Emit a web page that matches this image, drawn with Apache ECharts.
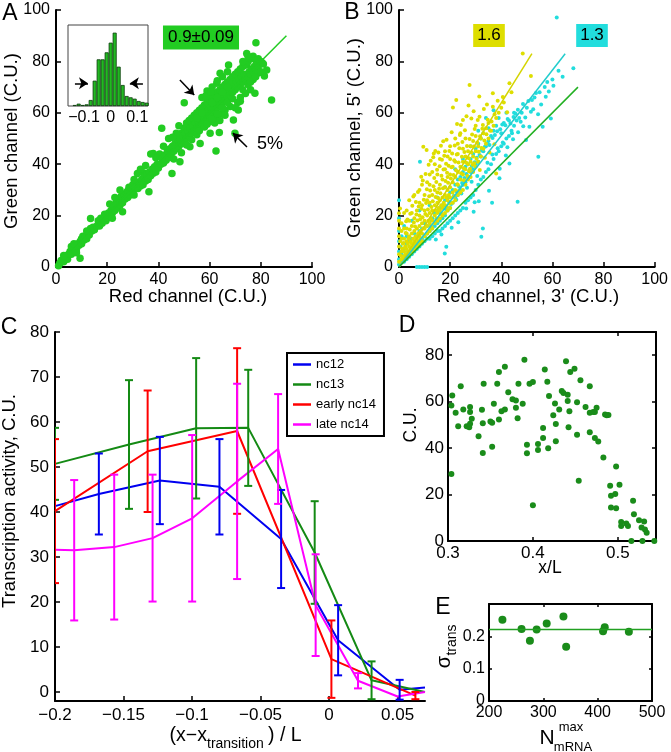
<!DOCTYPE html>
<html><head><meta charset="utf-8">
<script src="https://cdn.jsdelivr.net/npm/echarts@6/dist/echarts.min.js"></script>
<style>html,body{margin:0;padding:0;background:#fff}#c{width:671px;height:752px}</style>
</head><body><div id="c"></div>
<script>
const FONT = '"Liberation Sans", Arial, sans-serif';

// ---------- Panel A ----------
const A_ticks = [0, 20, 40, 60, 80, 100];
const A_points = [
[1,0.5],[1.5,1.5],[2,2.5],[3,2],[3.5,3.5],[4,4.5],[4.5,3],[5,5],[5.5,6],[6,5],[6.5,7],[7,6.5],[7.5,8],[8,7],[8.5,9],[9,8.5],[9.5,10],[10,9],[10,11],[10.5,12],[11,10.5],[11.5,12],[12,11],[12.5,13.5],[13,12.5],[13.5,15],[14,14],[14.5,15.5],[15,14.5],[16,16],[16.5,18],[17,16],[17.5,19],[18,17],[18.5,18.5],[19,20.5],[19.5,18],[20,19],[20.5,21],[9.4,3.4],[13.5,18.9],[6,8],[8,5.5],[12,14],[3,4.5],[7,9],
[21,24.5],[21,20],[21.5,22],[22,21],[22.5,23.5],[23,22],[23.5,25],[24,23],[24.5,26],[25,24],[25.5,27.5],[26,25],[26.5,28],[27,26.5],[27.5,29],[28,29.6],[28,27],[28.5,31],[29,28],[29.5,30.5],[30,29],[30.5,28],[30,32],[31,31],[31.8,36.4],[32,30.5],[32.5,33],[33,31.5],[33.5,34],[34,32],[34.1,36.7],[34.5,35],[35,33.5],[35.5,36],[36,34],[36.3,29.3],[36.5,37],[37,35.5],[37.5,38],[38,44.2],[38,36.5],[38.5,39],[39,37],[39.5,40],[40,38.5],[40.5,44],[23,27],[25,30],[26,21.5],[30.5,34],[33,38],[35,39.5],[39,42.5],[37,44],[22,19],
[41,40],[41.3,54],[41.5,42],[42,40.5],[42.5,43.5],[43,41.5],[43.5,45],[44,42.5],[44.5,46],[45,44],[45.3,36.4],[45.5,47],[46,45],[46.5,48],[47,46],[47.5,49.5],[48,47],[48.4,41],[48.5,50],[49,48],[49,52],[49.5,51],[50,49],[50,54],[50.1,63.9],[50.5,52],[51,50],[51,56],[51.5,53],[52,51],[52,57],[52.3,46.8],[52.5,54],[53,52],[53,58],[53.5,55],[54,53],[54,59],[54.5,56],[55,54],[55,60],[42,47],[44,50],[46,42],[47,52],[49,44.5],[51,47.5],[53,49.5],[55,51.5],[45.5,50.5],[48,55],
[55.5,57],[56,55],[56,61],[56.3,48.1],[56.5,58],[57,56],[57,62],[57.5,59],[58,57],[58,63],[58.5,60],[59,58],[59,64],[59.5,61],[60,59],[60,65],[60.2,52],[60.5,62],[61,60],[61,66],[61.5,63],[62,61],[62,67],[62.5,45.1],[62.5,64],[62.8,71.5],[63,62],[63,68],[63.5,65],[63.8,52.3],[64,63],[64,69],[64.1,75.4],[64.5,66],[65,64],[65,70],[65.5,67],[66,65],[66,71],[66.5,68],[67,66],[67.4,78.6],[67,72],[67.5,69],[68,67],[68,73],[68.5,70],[69,68],[69.3,57.2],[69,74],[69.5,71],[69.9,52],[70,69],[70,75],[56,53],[58,54.5],[60,56.5],[62,58],[64,59.5],[66,61],[68,62.5],[57,66],[59,68.5],[61,70],[63,72.5],[65,74],[67,76],[62,56],[64,57],[66,59],[58.5,66.5],[60.5,68],[55,58],[57,60],[61,64],[63,66],[65,68],[67,70],[69,72],[59,55.5],[61,57.5],[63,59.5],[65,62],[67,64],[69,65.5],
[70.5,72],[71,70],[71,76],[71.2,61.1],[71.5,73],[72,71],[72,77],[72.5,74],[73,72],[73,78],[73.5,75],[74,73],[74.5,83.1],[74.5,78.6],[74,79],[75,74],[75,80],[75.5,76],[76,75],[76,81],[76.5,77],[77,76],[77.7,67.6],[77,82],[77.5,78],[78,77],[78.1,87.3],[78,80.5],[78.5,79],[79,78],[79,81],[80,80],[80.5,79.5],[81.4,74.3],[82.3,76.7],[84.2,65],[72,66],[74,67.5],[76,69],[71,64],[73,69],[75,71],[77,73],[79,75.5],[70,62],[72,64.5],[76,72],[78,74],[80,76],[81,79],[73,80],[75,82]
];
const A_fit = [[0, 0], [90, 90]];
const A_arrows = [[[48.4, 72.8], [54, 66.9]], [[74.6, 46.7], [69.1, 52.1]]];

// inset histogram
const INSET_ticks = [-0.1, 0, 0.1];
const hist_centers = [-0.135,-0.12,-0.105,-0.09,-0.075,-0.06,-0.045,-0.03,-0.015,0,0.015,0.03,0.045,0.06,0.075,0.09,0.105,0.12,0.135];
const hist_counts = [3,7,3,5,18,76,140,140,161,190,220,118,63,30,26,22,15,12,10];
const inset_arrows = [[[-0.134, 68], [-0.085, 68]], [[0.121, 68], [0.072, 68]]];

// ---------- Panel B ----------
const B_yellow = [
[0,2],[0,5],[0,8],[0,12],[0,15],[0,18],[0,20.9],[0.4,22.8],[0.5,10],[1,3],[1,6],[1,14],[1,17],[1.5,4],[1.5,9],[2,3],[2,6],[2,11],[2,21],[2.5,5],[2.5,8],[3,4],[3,7],[3,10],[3,15],[3,22],[3.5,6],[3.5,9],[4,5],[4,8],[4,12],[4,18],[4.5,7],[4.5,10],[5,6],[5,9],[5,13],[5,16],[5,21],[5.5,8],[5.5,11],[6,7],[6,10],[6,14],[6,19],[6.5,9],[6.5,12],[7,8],[7,11],[7,15],[7,22],[7.5,10],[7.5,13],[7.9,13.1],[8,9],[8,12],[8,16],[8,20],[8,25],[8.5,11],[8.5,14],[9,10],[9,13],[9,17],[9,24],[9.5,46.8],[9.5,15],[10,12],[10,15],[10,18],[10,22],[10,28],[10.8,45.5],[11,13],[11,16],[11,20],[11,26],[11.5,18],[12,14],[12,17],[12,21],[12,25],[12,32],[12.5,19],[13,15],[13,18],[13,22],[13,28],[13.6,44.2],[14,17],[14,20],[14,24],[14,30],[14.5,22],[15,18],[15,21],[15,25],[15,29],[15,36],[15.5,23],[16,19],[16,22],[16,26],[16,32],[16.5,24],[17,20],[17,23],[17,27],[17,34],[17.5,25],[18,21],[18,24],[18,28],[18,31],[18,38],[18.5,27],[19,22],[19,26],[19,30],[19,35],[19.5,28],[20,23],[20,27],[20,31],[20,36],[20,42],[21,25],[21,29],[21,33],[21.1,62.1],[21,39],[22,26],[22,30],[22,35],[22.4,65],[22,41],[23,28],[23,32],[23,37],[23,44],[24,29],[24,34],[24,39],[25,30],[25,36],[25,41],[25,57.2],[25,46],[26,32],[26,38],[26,43],[27,34],[27,40],[27,45],[27.6,70.8],[28,35],[28,41],[28,47],[28.3,57.8],[29,37],[29,43],[29,49],[30,39],[30,45],[30,51],[31,41],[31,47],[31.5,58.5],[32,43],[32,50],[32.8,55.3],[33,46],[33,52],[34,48],[34,54],[35,50],[35,56],[36,53],[36.7,62.4],[36.7,67.6],[37,55],[38,36.4],[38,58],[39,60],[40,62],[41,64],[43.2,71.5],[44,68],[48.4,83.1],[51.6,74.3],[6,28],[4,26],[9,32],[12,36],[14,40],[16,42],[18,45],[20,47],[22,50],[24,52],[11,33],[13,37],[8,30],[19,43],[23,48],[26,50],[30,55],[2,15],[1,11],[3,13],
[2.3,7.4],[3.7,11.2],[4.2,14.6],[5.8,17.3],[6.3,15.8],[6.8,20.4],[7.2,18.1],[7.7,23.5],[8.3,18.6],[8.8,22.7],[9.2,19.4],[9.7,26.2],[10.3,20.6],[10.6,24.9],[10.9,30.3],[11.3,22.4],[11.8,27.5],[12.2,29.8],[12.7,23.3],[13.2,25.6],[13.5,31.4],[13.8,34.6],[14.3,27.2],[14.6,33.1],[14.9,37.8],[15.3,26.8],[15.7,30.4],[15.9,39.2],[16.2,28.7],[16.6,35.5],[16.8,41.7],[17.2,30.6],[17.4,37.9],[17.7,43.3],[18.2,33.5],[18.4,40.2],[18.8,36.7],[19.2,32.8],[19.4,39.4],[19.7,45.1],[20.3,34.4],[20.5,38.8],[20.8,44.2],[21.3,35.8],[21.6,41.5],[21.8,47.3],[22.3,37.6],[22.6,43.8],[22.8,32.2],[23.3,40.7],[23.6,46.2],[23.8,51.4],[24.3,36.5],[24.6,42.9],[24.8,48.6],[25.3,38.4],[25.6,44.7],[25.8,53.2],[26.3,40.6],[26.6,47.1],[26.8,35.4],[27.3,42.3],[27.6,49.8],[27.8,38.2],[28.3,44.6],[28.6,51.6],[28.8,39.8],[29.3,46.9],[29.6,53.7],[30.3,42.1],[30.6,48.4],[31.2,44.8],[31.7,50.9],[32.3,46.3],[32.6,53.8],[33.4,49.2],[34.2,51.7],[34.7,57.3],[35.6,53.1],[36.2,56.6],[37.4,59.4],[33.2,61.5],[30.8,57.2],[29.2,60.6],[26.4,58.7],[24.2,55.3],[18.6,49.5],[16.4,47.2],[14.2,45.1],[12.4,41.3],[10.4,36.2],[9.3,33.7],[7.4,29.2],[6.6,25.3],[5.2,23.8],[4.4,20.7],[3.3,18.5],[2.6,13.2],[1.8,9.3],[1.2,7.2],[0.7,4.4],[2.8,17.8],[5.6,27.4],[8.7,35.1],[11.6,39.8],[13.4,42.7],[15.4,44.6],[17.3,48.9],[20.6,52.4],[22.7,55.6],[27.2,62.8],[31.4,66.3],[34.4,63.2],[38.6,64.7],[40.6,66.1],[42.3,60.2],[19.8,24.7],[21.4,27.3],[23.4,29.6],[25.4,33.8],[27.4,37.3],[29.4,40.4],[31.6,37.7],[33.6,42.5],[35.4,44.6],[37.3,47.8],[12.6,15.8],[14.7,18.9],[16.7,20.6],[18.7,23.4]
];
const B_cyan = [
[0,1],[0,3],[0,6],[0,10],[0,14],[0,19],[0,26],[0.5,8],[1,2],[1,5],[1,12],[1.5,3],[2,2],[2,4],[2,7],[2,16],[3,3],[3,5],[3,9],[4,4],[4,6],[4,10],[5,5],[5,7],[5,11],[6,6],[6,8],[6,13],[7,0],[7,7],[7,9],[7,12],[8,0],[8,8],[8,10],[8.2,41],[8,14],[9,0],[9,9],[9,11],[9,15],[10,0],[10,10],[10,12],[10,17],[11,0],[11,11],[11,13],[11,16],[12,11],[12,14],[12,18],[13,12],[13,15],[13,19],[14,13],[14,16],[14,21],[15,14],[15,17],[15,22],[16,14],[16,18],[16,23],[17,15],[17,19],[17,24],[17.9,5.3],[18.5,7.9],[18,16],[18,20],[18,26],[19,17],[19,22],[19,27],[20,18],[20,23],[20,29],[21,19],[21,25],[21,30],[22,20],[22,27],[22,32],[23,21],[23,28],[23,34],[24,22],[24,30],[24,35],[25,23],[25,32],[25,37],[26,25],[26,33],[26,39],[27,26],[27,35],[27,40],[28,27],[28,37],[28,42],[29,28],[29.2,21.5],[29,38],[29,44],[30,30],[30,40],[30,46],[31,32],[31,41],[31,48],[32,34],[32.8,15],[32.2,11.8],[32,43],[32,50],[33,35],[33,45],[33,52],[34,37],[34,47],[35,38],[35,49],[35,54],[36,40],[36.4,25],[36,51],[37,42],[37,53],[38,44],[38,55],[39,45],[39.3,34.5],[39,58],[40,47],[40,52],[41,48],[41,56],[42,50],[42,60],[43,51],[43.2,40.3],[43,57],[44,53],[44.2,52],[45,55],[45,60],[46.4,25.4],[46,57],[47,58],[48,60],[49.7,49.4],[50,62],[51,54.6],[51.6,60.4],[52,65],[53,66],[54.5,42.9],[55,68],[56.2,54.6],[57,70],[58,72],[59.4,57.8],[60,73],[61.7,97.1],[62.4,76.4],[64,74],[68.2,77.3],[22,38],[25,42],[28,47],[31,53],[34,58],[37,61],[12,24],[15,27],[18,31],[5,18],[8,22],[3,12],
[12.4,15.7],[14.6,18.4],[16.3,20.7],[18.3,22.6],[19.6,25.3],[21.4,27.6],[22.6,29.4],[23.5,31.2],[24.7,32.7],[25.6,34.6],[26.4,36.2],[27.6,37.6],[28.5,39.3],[29.6,40.8],[30.4,42.5],[31.5,43.6],[32.4,45.3],[33.6,46.8],[34.5,48.2],[35.4,47.5],[36.6,50.2],[37.5,51.4],[38.4,52.8],[39.6,53.6],[40.4,55.4],[41.6,55.2],[42.5,57.6],[43.6,55.8],[44.8,58.4],[45.6,59.6],[46.5,61.2],[47.6,56.5],[48.5,63.4],[49.4,58.2],[50.6,64.6],[52.5,61.4],[53.6,67.7],[54.4,59.4],[55.6,63.2],[57.4,66.2],[58.6,68.3],[60.4,70.5],[34.6,40.6],[36.5,43.8],[38.6,46.2],[40.6,48.4],[42.4,46.6],[44.6,49.7],[46.6,52.4],[48.6,54.8],[30.6,35.4],[28.4,33.2],[26.6,30.8],[24.4,28.6],[22.4,26.2],[20.4,24.5],[31.2,25.6],[35.2,29.7],[26.3,22.8],[29.6,25.2],[23.2,17.4],[20.6,15.3],[16.6,12.6],[14.4,10.7],[39.4,38.2],[41.8,43.4]
];
const B_fit_yellow = [[0, 0], [52, 83]];
const B_fit_cyan = [[0, 0], [65, 83]];
const B_fit_green = [[0, 0], [70, 70]];

// ---------- Panel C ----------
const C_xticks = [-0.2, -0.15, -0.1, -0.05, 0, 0.05];
const C_yticks = [0, 10, 20, 30, 40, 50, 60, 70, 80];
const C_names = ['nc12', 'nc13', 'early nc14', 'late nc14'];
const nc12_x = [-0.2, -0.168, -0.1235, -0.080, -0.035, 0.0066, 0.0515, 0.07];
const nc12_y = [41.3, 44, 47, 45.6, 34, 11.5, 0.5, 1];
const nc12_e = [null, 9, 9.7, 10.6, 10.9, 7.8, 2.2, null];
const nc13_x = [-0.2, -0.146, -0.097, -0.059, -0.0105, 0.031, 0.07];
const nc13_y = [50.7, 55, 58.6, 58.7, 31, 2.6, 0];
const nc13_e = [8, 14.3, 15.6, 12.9, 11.4, 4.2, null];
const early_x = [-0.2, -0.1324, -0.0671, 0.0017, 0.063];
const early_y = [40.2, 53.5, 58, 7.3, -0.8];
const early_e = [16, 13.5, 18.4, 8.6, 0.8];
const late_x = [-0.2, -0.186, -0.1568, -0.1288, -0.0999, -0.0671, -0.0372, -0.0098, 0.0211, 0.05, 0.07];
const late_y = [31.6, 31.5, 32.2, 34.2, 38.6, 46.8, 54, 19.3, 2.5, -1, 0];
const late_e = [null, 15.6, 16.1, 14.1, 18.5, 21.7, 12.2, 11.3, 1.7, null, null];

// ---------- Panel D ----------
const D_xticks = [0.3, 0.4, 0.5];
const D_yticks = [0, 20, 40, 60, 80];
const D_points = [[0.305,62.7],[0.304,58.4],[0.309,55.2],[0.304,28.8],[0.315,66.6],[0.312,49.4],[0.318,56.6],[0.322,49.4],[0.325,49],[0.326,57.7],[0.326,55.5],[0.326,50.5],[0.328,52.6],[0.336,45.1],[0.34,56.5],[0.341,50.7],[0.341,37.9],[0.342,67.7],[0.35,51.5],[0.352,50.9],[0.352,40.6],[0.354,59.1],[0.358,67.7],[0.36,72.8],[0.36,52.3],[0.363,55.9],[0.367,75],[0.367,56.6],[0.371,64.1],[0.376,61],[0.38,60.5],[0.38,57.4],[0.382,52.9],[0.383,67.7],[0.388,59.1],[0.39,78.1],[0.393,41.4],[0.393,37.8],[0.396,67.7],[0.4,68.5],[0.4,15.4],[0.406,41.8],[0.406,39.2],[0.412,48.7],[0.412,44.4],[0.414,73.8],[0.417,68.6],[0.418,39.9],[0.419,62.4],[0.424,54.1],[0.426,59.2],[0.427,50.4],[0.427,43],[0.431,56.6],[0.434,64.6],[0.436,63.7],[0.439,77.4],[0.441,63],[0.441,60.3],[0.442,49],[0.443,55.9],[0.444,72.8],[0.449,74.2],[0.452,59.8],[0.452,45.8],[0.454,25.9],[0.456,69.2],[0.462,57.7],[0.467,66.6],[0.467,55.2],[0.467,46.8],[0.471,55.5],[0.473,55.5],[0.473,44.4],[0.475,57.4],[0.477,42.8],[0.483,36],[0.485,54.5],[0.487,54.1],[0.489,54.3],[0.491,23.8],[0.492,19.5],[0.492,14.4],[0.497,20.2],[0.498,14.1],[0.498,32.1],[0.502,24.2],[0.504,8.2],[0.504,6.5],[0.51,7.5],[0.512,6.5],[0.516,0],[0.518,17.3],[0.519,11.5],[0.525,8.9],[0.528,5.8],[0.529,0],[0.531,8.4],[0.532,5],[0.534,3.6],[0.543,0]];

// ---------- Panel E ----------
const E_xticks = [200, 300, 400, 500];
const E_yticks = [0, 0.1, 0.2];
const E_x = [224.7, 259.9, 275.3, 287.7, 306.2, 337, 342, 409.9, 413, 457.4];
const E_y = [0.251, 0.223, 0.186, 0.221, 0.24, 0.261, 0.168, 0.216, 0.228, 0.214];
const E_fit = [[200, 0.221], [500, 0.221]];

// ---------- colours ----------
const A_GREEN = '#22cc22', D_GREEN = '#1a8c1a';
const YEL = '#dede00', CYAN = '#22dddd';
const C_COLORS = ['#0000f0', '#148a14', '#ff0000', '#ff00ff'];

function fmt(v) {
  const s = String(Math.round(v * 1000) / 1000);
  return s.charAt(0) === '-' ? '\u2212' + s.slice(1) : s;
}
function ax(gridIndex, min, max, ticks, o) {
  o = o || {};
  return {
    type: 'value', gridIndex: gridIndex, min: min, max: max, position: o.position,
    axisLine: { show: o.line !== false, onZero: false, lineStyle: { color: '#000', width: 2 } },
    axisTick: { show: o.tick !== false, inside: true, length: o.tickLen || 5, customValues: ticks, lineStyle: { color: '#000', width: 1.5 } },
    axisLabel: { show: o.labels !== false, customValues: ticks, color: '#000', fontSize: o.fs || 16, fontFamily: FONT, margin: o.margin || 6, formatter: fmt, hideOverlap: false },
    splitLine: { show: false }
  };
}
function errData(xs, ys, es) {
  const out = [];
  xs.forEach((x, i) => { if (es[i] != null) out.push([x, ys[i] - es[i], ys[i] + es[i]]); });
  return out;
}
function errRender(color) {
  return function (params, api) {
    const x = api.value(0);
    const pLo = api.coord([x, api.value(1)]), pHi = api.coord([x, api.value(2)]);
    const w = 4, st = { stroke: color, lineWidth: 2 };
    return { type: 'group', children: [
      { type: 'line', shape: { x1: pLo[0], y1: pLo[1], x2: pHi[0], y2: pHi[1] }, style: st },
      { type: 'line', shape: { x1: pLo[0] - w, y1: pLo[1], x2: pLo[0] + w, y2: pLo[1] }, style: st },
      { type: 'line', shape: { x1: pHi[0] - w, y1: pHi[1], x2: pHi[0] + w, y2: pHi[1] }, style: st }
    ] };
  };
}
function arrowsML(list) {
  return { silent: true, symbol: ['none', 'arrow'], symbolSize: 9, label: { show: false },
    lineStyle: { color: '#000', width: 1.5, type: 'solid' }, animation: false,
    data: list.map(a => [{ coord: a[0] }, { coord: a[1] }]) };
}
function T(text, x, y, size, extra) {
  extra = extra || {};
  return { type: 'text', x: x, y: y, z: 100, rotation: extra.rotation || 0,
    style: Object.assign({ text: text, font: size + 'px ' + FONT, fill: '#000',
      textAlign: extra.align || 'center', align: extra.align || 'center',
      textVerticalAlign: 'middle', verticalAlign: 'middle' }, extra.style || {}) };
}

const cx = [nc12_x, nc13_x, early_x, late_x], cy = [nc12_y, nc13_y, early_y, late_y], ce = [nc12_e, nc13_e, early_e, late_e];
const C_lines = C_names.map((n, i) => ({ type: 'line', name: n, xAxisIndex: 3, yAxisIndex: 3, symbol: 'none',
  data: cx[i].map((x, j) => [x, cy[i][j]]), lineStyle: { color: C_COLORS[i], width: 2 }, itemStyle: { color: C_COLORS[i] }, z: 3 }));
const C_errs = C_names.map((n, i) => ({ type: 'custom', xAxisIndex: 3, yAxisIndex: 3, clip: true,
  data: errData(cx[i], cy[i], ce[i]), encode: { x: 0, y: [1, 2] }, renderItem: errRender(C_COLORS[i]), z: 4 }));

const option = {
  animation: false,
  textStyle: { fontFamily: FONT },
  grid: [
    { left: 56, top: 10, width: 256, height: 257 },
    { left: 68, top: 25, width: 80, height: 81, show: true, borderColor: '#444', borderWidth: 1, backgroundColor: '#fff', z: 5 },
    { left: 399, top: 10, width: 257, height: 257 },
    { left: 55, top: 332, width: 370, height: 369 },
    { left: 448, top: 332, width: 208, height: 209 },
    { left: 489, top: 604, width: 163, height: 97 }
  ],
  xAxis: [
    ax(0, 0, 100, A_ticks, { margin: 5 }),
    Object.assign(ax(1, -0.16, 0.14, INSET_ticks, { line: false, tick: false, margin: 4 }), { z: 6 }),
    ax(2, 0, 100, A_ticks, { margin: 5 }),
    ax(3, -0.2, 0.07, C_xticks, { margin: 6, fs: 17 }),
    ax(4, 0.3, 0.545, D_xticks, { margin: 4, tickLen: 4, fs: 17 }),
    ax(4, 0.3, 0.545, D_xticks, { position: 'top', labels: false, tickLen: 4 }),
    ax(5, 200, 500, E_xticks, { margin: 4, tickLen: 3 }),
    ax(5, 200, 500, E_xticks, { position: 'top', labels: false, tickLen: 3 })
  ],
  yAxis: [
    ax(0, 0, 100, A_ticks),
    Object.assign(ax(1, 0, 243, [], { line: false, tick: false, labels: false }), { z: 6 }),
    ax(2, 0, 100, A_ticks),
    ax(3, -2, 80, C_yticks, { fs: 17 }),
    ax(4, 0, 90, D_yticks, { position: 'left', tickLen: 4, margin: 4, fs: 17 }),
    ax(4, 0, 90, D_yticks, { position: 'right', labels: false, tickLen: 4 }),
    ax(5, 0, 0.3, E_yticks, { position: 'left', tickLen: 3, margin: 4 }),
    ax(5, 0, 0.3, E_yticks, { position: 'right', labels: false, tickLen: 3 })
  ],
  legend: {
    data: C_names, orient: 'vertical', left: 287, top: 353, padding: [4, 8, 4, 6], itemGap: 5,
    icon: 'rect', itemWidth: 18, itemHeight: 2.5, borderColor: '#000', borderWidth: 2, backgroundColor: '#fff',
    textStyle: { fontSize: 13, color: '#000', fontFamily: FONT, lineHeight: 15 }, selectedMode: false, z: 10
  },
  series: [
    { type: 'scatter', xAxisIndex: 0, yAxisIndex: 0, data: A_points, symbolSize: 7.5, itemStyle: { color: A_GREEN, opacity: 1 }, markLine: arrowsML(A_arrows) },
    { type: 'line', xAxisIndex: 0, yAxisIndex: 0, data: A_fit, symbol: 'none', lineStyle: { color: A_GREEN, width: 1.5 } },
    { type: 'bar', xAxisIndex: 1, yAxisIndex: 1, data: hist_centers.map((c, i) => [c, hist_counts[i]]), barWidth: 4,
      itemStyle: { color: '#22b822', borderColor: '#0b3b0b', borderWidth: 0.8 }, z: 6, markLine: Object.assign(arrowsML(inset_arrows), { z: 7 }) },
    { type: 'scatter', xAxisIndex: 2, yAxisIndex: 2, data: B_cyan, symbolSize: 4, itemStyle: { color: CYAN, opacity: 1 } },
    { type: 'scatter', xAxisIndex: 2, yAxisIndex: 2, data: B_yellow, symbolSize: 4, itemStyle: { color: YEL, opacity: 1 } },
    { type: 'line', xAxisIndex: 2, yAxisIndex: 2, data: B_fit_yellow, symbol: 'none', lineStyle: { color: '#d4d400', width: 1.5 } },
    { type: 'line', xAxisIndex: 2, yAxisIndex: 2, data: B_fit_cyan, symbol: 'none', lineStyle: { color: '#22cccc', width: 1.5 } },
    { type: 'line', xAxisIndex: 2, yAxisIndex: 2, data: B_fit_green, symbol: 'none', lineStyle: { color: '#22b022', width: 1.5 } }
  ].concat(C_lines, C_errs, [
    { type: 'scatter', xAxisIndex: 4, yAxisIndex: 4, data: D_points, symbolSize: 6, itemStyle: { color: D_GREEN, opacity: 1 } },
    { type: 'line', xAxisIndex: 6, yAxisIndex: 6, data: E_fit, symbol: 'none', lineStyle: { color: '#22a022', width: 1.5 } },
    { type: 'scatter', xAxisIndex: 6, yAxisIndex: 6, data: E_x.map((x, i) => [x, E_y[i]]), symbolSize: 8, itemStyle: { color: D_GREEN, opacity: 1 } }
  ]),
  graphic: [
    T('A', 10, 14, 23), T('B', 352, 13, 23), T('C', 9, 328, 23), T('D', 407, 326, 23), T('E', 443, 608, 23),
    T('Green channel (C.U.)', 12, 141, 18.5, { rotation: Math.PI / 2 }),
    T('Red channel (C.U.)', 188, 297, 18.5),
    T("Green channel, 5' (C.U.)", 355, 138, 18.5, { rotation: Math.PI / 2 }),
    T("Red channel, 3' (C.U.)", 528, 297, 18.5),
    T('Transcription activity, C.U.', 10, 501, 18.5, { rotation: Math.PI / 2 }),
    T('(x\u2212x', 207, 736, 19.5, { align: 'right' }),
    T('transition', 207, 744, 14, { align: 'left' }),
    T(') / L', 268, 736, 19.5, { align: 'left' }),
    T('C.U.', 411, 425, 17.5, { rotation: Math.PI / 2 }),
    T('x/L', 550, 568, 17.5),
    T('\u03c3', 444, 662, 20, { rotation: Math.PI / 2 }),
    T('trans', 452, 640, 14, { rotation: Math.PI / 2 }),
    T('N', 547, 738, 21),
    T('max', 571, 727, 13),
    T('mRNA', 573, 747, 13),
    T('0.9\u00b10.09', 201, 37.5, 17, { style: { backgroundColor: A_GREEN, padding: [4, 5, 3, 5] } }),
    T('5%', 270, 144, 18),
    T('1.6', 489, 35.5, 17, { style: { backgroundColor: YEL, padding: [3, 4, 3, 4] } }),
    T('1.3', 592, 35.5, 17, { style: { backgroundColor: CYAN, padding: [3, 4, 3, 4] } })
  ]
};
const chart = echarts.init(document.getElementById('c'), null, { renderer: 'canvas' });
chart.setOption(option);
</script>
</body></html>
